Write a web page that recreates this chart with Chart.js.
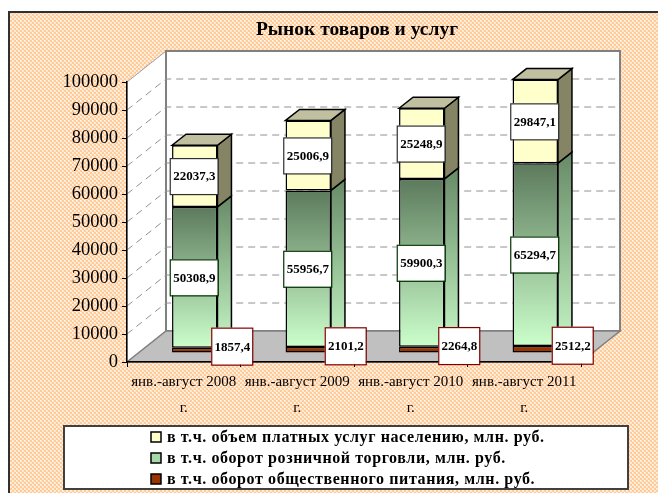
<!DOCTYPE html>
<html lang="ru">
<head>
<meta charset="UTF-8">
<title>Рынок товаров и услуг</title>
<script src="https://cdn.jsdelivr.net/npm/chart.js@4"></script>
<style>
    html, body { margin: 0; padding: 0; background: #fff; }
    canvas { display: block; }
</style>
</head>
<body>
<canvas id="marketChart" width="658" height="493"></canvas>
<script>
// data
const categories = [
    ['янв.-август 2008', 'г.'],
    ['янв.-август 2009', 'г.'],
    ['янв.-август 2010', 'г.'],
    ['янв.-август 2011', 'г.']
];
const cateringValues = [1857.4, 2101.2, 2264.8, 2512.2];
const retailValues = [50308.9, 55956.7, 59900.3, 65294.7];
const servicesValues = [22037.3, 25006.9, 25248.9, 29847.1];
const seriesNames = [
    'в т.ч. оборот общественного питания, млн. руб.',
    'в т.ч. оборот розничной торговли, млн. руб.',
    'в т.ч. объем платных услуг населению, млн. руб.'
];
const yMax = 100000;
const yStep = 10000;
const chartTitle = 'Рынок товаров и услуг';

const SERIF = '"Liberation Serif", "Times New Roman", serif';

// fake 3D geometry (pixels)
const wallDx = 39, wallDy = -31;
const barShiftX = 11, barShiftY = -9;
const barDx = 14, barDy = -11;

function fmt(v) {
    return v.toFixed(1).replace('.', ',');
}

function poly(ctx, pts, fill, stroke, lw) {
    ctx.beginPath();
    ctx.moveTo(pts[0][0], pts[0][1]);
    for (let i = 1; i < pts.length; i++) ctx.lineTo(pts[i][0], pts[i][1]);
    ctx.closePath();
    if (fill) { ctx.fillStyle = fill; ctx.fill(); }
    if (stroke) { ctx.strokeStyle = stroke; ctx.lineWidth = lw || 1; ctx.stroke(); }
}

function vGradient(ctx, top, bottom, c1, c2) {
    const g = ctx.createLinearGradient(0, top, 0, bottom);
    g.addColorStop(0, c1);
    g.addColorStop(1, c2);
    return g;
}

let bgPattern = null;
function backgroundPattern(ctx) {
    if (bgPattern) return bgPattern;
    const c = document.createElement('canvas');
    c.width = 4; c.height = 4;
    const p = c.getContext('2d');
    p.fillStyle = '#FFCC99';
    p.fillRect(0, 0, 4, 4);
    p.fillStyle = '#FFE8D2';
    p.fillRect(0, 0, 2, 2);
    p.fillRect(2, 2, 2, 2);
    p.fillStyle = '#FFF6EC';
    p.fillRect(0, 0, 1, 1);
    p.fillRect(2, 2, 1, 1);
    bgPattern = ctx.createPattern(c, 'repeat');
    return bgPattern;
}

// green segment gradient, per bar
function retailFill(c) {
    const chart = c.chart;
    const ys = chart.scales.y;
    if (!ys || !chart.chartArea || c.dataIndex === undefined) return '#99CC99';
    const i = c.dataIndex;
    const top = ys.getPixelForValue(cateringValues[i] + retailValues[i]);
    const bot = ys.getPixelForValue(cateringValues[i]);
    return vGradient(chart.ctx, top, bot, '#5C7A5C', '#CCFFCC');
}

const threeD = {
    id: 'threeD',
    beforeDraw(chart) {
        const ctx = chart.ctx;
        const a = chart.chartArea;
        const y = chart.scales.y;
        ctx.save();
        ctx.fillStyle = '#fff';
        ctx.fillRect(0, 0, chart.width, chart.height);
        ctx.fillStyle = backgroundPattern(ctx);
        ctx.fillRect(8, 11, chart.width, chart.height);
        ctx.strokeStyle = '#303030';
        ctx.lineWidth = 2;
        ctx.strokeRect(9, 12, chart.width + 20, chart.height + 20);

        // title
        ctx.fillStyle = '#000';
        ctx.font = 'bold 19.5px ' + SERIF;
        ctx.textAlign = 'center';
        ctx.textBaseline = 'middle';
        ctx.fillText(chartTitle, 357, 30);

        // walls and floor
        const L = a.left, R = a.right;
        const top = y.getPixelForValue(yMax), bot = y.getPixelForValue(0);
        poly(ctx, [[L, top], [L + wallDx, top + wallDy], [L + wallDx, bot + wallDy], [L, bot]], '#fff', '#A0A0A0', 1);
        poly(ctx, [[L + wallDx, top + wallDy], [R + wallDx, top + wallDy], [R + wallDx, bot + wallDy], [L + wallDx, bot + wallDy]], '#fff', '#808080', 2);

        ctx.setLineDash([7, 5]);
        ctx.strokeStyle = '#909090';
        ctx.lineWidth = 1;
        for (let v = yStep; v < yMax; v += yStep) {
            const py = y.getPixelForValue(v);
            ctx.beginPath();
            ctx.moveTo(L, py);
            ctx.lineTo(L + wallDx, py + wallDy);
            ctx.lineTo(R + wallDx, py + wallDy);
            ctx.stroke();
        }
        ctx.setLineDash([]);

        poly(ctx, [[L, bot], [R, bot], [R + wallDx, bot + wallDy], [L + wallDx, bot + wallDy]], '#C0C0C0', '#808080', 1.5);
        ctx.restore();
    },
    beforeDatasetsDraw(chart) {
        const ctx = chart.ctx;
        ctx.save();
        ctx.translate(barShiftX, barShiftY);
        const last = chart.data.datasets.length - 1;
        chart.data.datasets.forEach((ds, di) => {
            chart.getDatasetMeta(di).data.forEach(el => {
                const l = el.x - el.width / 2, r = el.x + el.width / 2;
                const side = ds.sideGradient
                    ? vGradient(ctx, el.y + barDy, el.base + barDy, ds.sideGradient[0], ds.sideGradient[1])
                    : ds.sideColor;
                poly(ctx, [[r, el.y], [r + barDx, el.y + barDy], [r + barDx, el.base + barDy], [r, el.base]], side, '#000', 1.5);
                if (di === last) {
                    poly(ctx, [[l, el.y], [l + barDx, el.y + barDy], [r + barDx, el.y + barDy], [r, el.y]], ds.topColor, '#000', 1.5);
                }
            });
        });
    },
    afterDatasetsDraw(chart) {
        const ctx = chart.ctx;
        ctx.font = 'bold 13px ' + SERIF;
        ctx.textAlign = 'center';
        ctx.textBaseline = 'middle';
        chart.data.datasets.forEach((ds, di) => {
            chart.getDatasetMeta(di).data.forEach((el, i) => {
                const cy = (el.y + el.base) / 2;
                let bx, by, bw, bh;
                if (ds.labelSide) {
                    bw = 41; bh = 37;
                    bx = el.x + 37 - bw / 2;
                    by = cy - 4 - bh / 2;
                } else {
                    bw = 48; bh = 36;
                    bx = el.x - 1 - bw / 2;
                    by = cy - bh / 2;
                }
                ctx.fillStyle = '#fff';
                ctx.fillRect(bx, by, bw, bh);
                ctx.strokeStyle = ds.labelBorder;
                ctx.lineWidth = 1.2;
                ctx.strokeRect(bx + 0.5, by + 0.5, bw, bh);
                ctx.fillStyle = '#000';
                ctx.fillText(fmt(ds.data[i]), bx + bw / 2 + 0.5, by + bh / 2 + 1);
            });
        });
        ctx.restore();
    },
    afterDraw(chart) {
        // legend, top entry first
        const ctx = chart.ctx;
        ctx.save();
        ctx.fillStyle = '#fff';
        ctx.fillRect(64, 426, 564, 63);
        ctx.strokeStyle = '#404040';
        ctx.lineWidth = 2;
        ctx.strokeRect(64, 426, 564, 63);
        ctx.font = 'bold 16px ' + SERIF;
        ctx.letterSpacing = '0.6px';
        ctx.textAlign = 'left';
        ctx.textBaseline = 'middle';
        const items = chart.data.datasets.slice().reverse();
        items.forEach((ds, k) => {
            const ry = 437 + k * 21;
            ctx.fillStyle = ds.legendColor;
            ctx.fillRect(151, ry - 5, 10, 10);
            ctx.strokeStyle = '#000';
            ctx.lineWidth = 1.5;
            ctx.strokeRect(151, ry - 5, 10, 10);
            ctx.fillStyle = '#000';
            ctx.fillText(ds.label, 167, ry + 1);
        });
        ctx.restore();
    }
};

new Chart(document.getElementById('marketChart'), {
    type: 'bar',
    data: {
        labels: categories,
        datasets: [
            {
                label: seriesNames[0],
                data: cateringValues,
                backgroundColor: '#993300',
                sideColor: '#4C1A00',
                topColor: '#803000',
                legendColor: '#993300',
                labelBorder: '#800000',
                labelSide: true
            },
            {
                label: seriesNames[1],
                data: retailValues,
                backgroundColor: retailFill,
                sideGradient: ['#678A67', '#BFEFBF'],
                topColor: '#90B090',
                legendColor: '#A8D8A8',
                labelBorder: '#003300'
            },
            {
                label: seriesNames[2],
                data: servicesValues,
                backgroundColor: '#FFFFCC',
                sideColor: '#858566',
                topColor: '#C0C0A0',
                legendColor: '#FFFFCC',
                labelBorder: '#303030'
            }
        ]
    },
    options: {
        responsive: false,
        animation: false,
        layout: { padding: { left: 8, right: 77, top: 82, bottom: 71 } },
        datasets: {
            bar: {
                categoryPercentage: 1,
                barPercentage: 0.4,
                borderColor: '#000',
                borderWidth: 1.5,
                borderSkipped: false
            }
        },
        plugins: {
            legend: { display: false },
            title: { display: false },
            tooltip: { enabled: false }
        },
        scales: {
            x: {
                stacked: true,
                grid: { drawOnChartArea: false, drawTicks: true, tickLength: 5, color: '#000', offset: true },
                border: { display: true, color: '#000', width: 1.5 },
                ticks: {
                    color: '#000',
                    font: { family: SERIF, size: 15, lineHeight: 1.75 },
                    padding: 2,
                    maxRotation: 0,
                    autoSkip: false
                },
                afterFit(scale) { scale.height = 60; }
            },
            y: {
                stacked: true,
                min: 0,
                max: yMax,
                grid: { drawOnChartArea: false, drawTicks: true, tickLength: 5, color: '#000' },
                border: { display: true, color: '#000', width: 1.5 },
                ticks: {
                    stepSize: yStep,
                    color: '#000',
                    padding: 4,
                    font: { family: SERIF, size: 18.5 },
                    callback: v => String(v)
                },
                afterFit(scale) { scale.width = 119; }
            }
        }
    },
    plugins: [threeD]
});
</script>
</body>
</html>
